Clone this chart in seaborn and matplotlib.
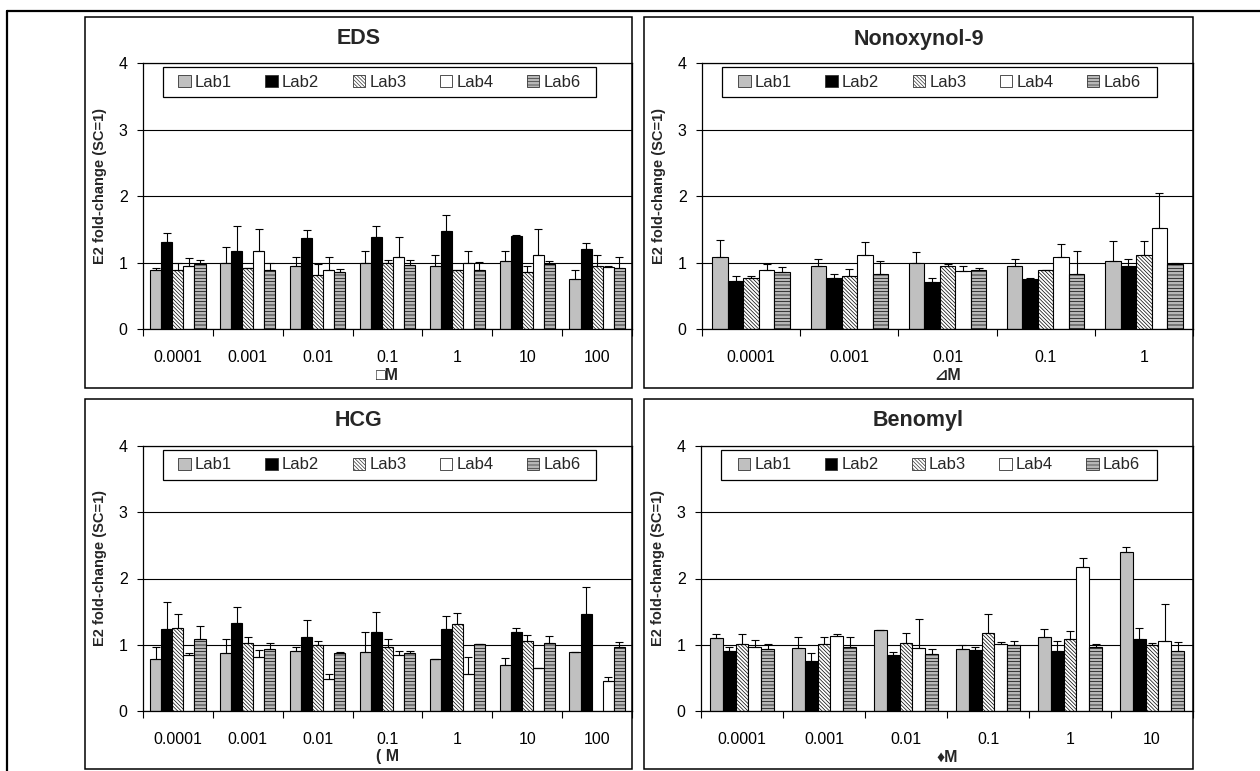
import numpy as np
import pandas as pd
import matplotlib
matplotlib.use("Agg")
import matplotlib.pyplot as plt
import seaborn as sns
from matplotlib.patches import Rectangle, Patch
from matplotlib.lines import Line2D

# ---------------- data ----------------
labs = ["Lab1", "Lab2", "Lab3", "Lab4", "Lab6"]

eds_doses = ["0.0001", "0.001", "0.01", "0.1", "1", "10", "100"]
eds_mean = {
    "Lab1": [0.88, 1.00, 0.95, 0.99, 0.94, 1.02, 0.75],
    "Lab2": [1.31, 1.18, 1.37, 1.38, 1.48, 1.40, 1.20],
    "Lab3": [0.89, 0.91, 0.81, 0.99, 0.89, 0.85, 0.95],
    "Lab4": [0.94, 1.17, 0.89, 1.09, 1.00, 1.12, 0.93],
    "Lab6": [0.97, 0.88, 0.85, 0.96, 0.88, 0.97, 0.92],
}
eds_err = {
    "Lab1": [0.03, 0.24, 0.13, 0.19, 0.18, 0.15, 0.13],
    "Lab2": [0.13, 0.37, 0.12, 0.17, 0.23, 0.01, 0.09],
    "Lab3": [0.11, 0.005, 0.16, 0.05, 0.0, 0.09, 0.17],
    "Lab4": [0.13, 0.34, 0.20, 0.30, 0.18, 0.39, 0.01],
    "Lab6": [0.07, 0.12, 0.05, 0.08, 0.13, 0.06, 0.17],
}

non_doses = ["0.0001", "0.001", "0.01", "0.1", "1"]
non_mean = {
    "Lab1": [1.09, 0.95, 1.00, 0.95, 1.03],
    "Lab2": [0.72, 0.76, 0.71, 0.75, 0.94],
    "Lab3": [0.77, 0.80, 0.95, 0.88, 1.11],
    "Lab4": [0.88, 1.12, 0.87, 1.08, 1.52],
    "Lab6": [0.85, 0.82, 0.89, 0.83, 0.97],
}
non_err = {
    "Lab1": [0.25, 0.10, 0.16, 0.10, 0.29],
    "Lab2": [0.08, 0.06, 0.05, 0.01, 0.12],
    "Lab3": [0.03, 0.10, 0.03, 0.01, 0.21],
    "Lab4": [0.09, 0.19, 0.08, 0.20, 0.52],
    "Lab6": [0.08, 0.21, 0.03, 0.34, 0.02],
}

hcg_doses = ["0.0001", "0.001", "0.01", "0.1", "1", "10", "100"]
hcg_mean = {
    "Lab1": [0.785, 0.875, 0.91, 0.89, 0.785, 0.695, 0.885],
    "Lab2": [1.245, 1.325, 1.12, 1.20, 1.245, 1.185, 1.46],
    "Lab3": [1.26, 1.03, 0.995, 0.97, 1.31, 1.06, np.nan],
    "Lab4": [0.85, 0.815, 0.48, 0.84, 0.555, 0.645, 0.45],
    "Lab6": [1.08, 0.94, 0.88, 0.88, 1.01, 1.02, 0.96],
}
hcg_err = {
    "Lab1": [0.185, 0.205, 0.05, 0.305, 0.005, 0.11, 0.01],
    "Lab2": [0.405, 0.245, 0.25, 0.295, 0.185, 0.075, 0.41],
    "Lab3": [0.205, 0.09, 0.065, 0.11, 0.165, 0.08, np.nan],
    "Lab4": [0.03, 0.10, 0.075, 0.07, 0.255, 0.0, 0.06],
    "Lab6": [0.205, 0.09, 0.005, 0.03, 0.005, 0.115, 0.075],
}

ben_doses = ["0.0001", "0.001", "0.01", "0.1", "1", "10"]
ben_mean = {
    "Lab1": [1.105, 0.95, 1.23, 0.94, 1.12, 2.405],
    "Lab2": [0.91, 0.755, 0.845, 0.925, 0.91, 1.09],
    "Lab3": [1.015, 1.015, 1.03, 1.18, 1.09, 0.99],
    "Lab4": [0.97, 1.135, 0.955, 1.015, 2.175, 1.06],
    "Lab6": [0.94, 0.97, 0.86, 0.99, 0.97, 0.91],
}
ben_err = {
    "Lab1": [0.05, 0.17, 0.0, 0.05, 0.12, 0.065],
    "Lab2": [0.05, 0.12, 0.045, 0.045, 0.15, 0.165],
    "Lab3": [0.14, 0.105, 0.15, 0.28, 0.12, 0.04],
    "Lab4": [0.105, 0.03, 0.43, 0.03, 0.14, 0.555],
    "Lab6": [0.075, 0.15, 0.08, 0.07, 0.04, 0.135],
}

titles = ["EDS", "Nonoxynol-9", "HCG", "Benomyl"]
xlabels = ["\u25a1M", "\u22bfM", "( M", "\u2666M"]
ylabel = "E2 fold-change (SC=1)"
ytick_vals = [0, 1, 2, 3, 4]

# ---------------- style ----------------
sns.set_style("white")
plt.rcParams["font.family"] = ["Liberation Sans", "DejaVu Sans"]
plt.rcParams["hatch.linewidth"] = 0.5

lab_face = {"Lab1": "#c0c0c0", "Lab2": "#000000", "Lab3": "#ffffff",
            "Lab4": "#ffffff", "Lab6": "#b8b8b8"}
lab_hatch = {"Lab1": None, "Lab2": None, "Lab3": "\\" * 9,
             "Lab4": None, "Lab6": "-----"}

W, H = 1260, 771
fig = plt.figure(figsize=(W / 100, H / 100), dpi=100)
fig.patch.set_facecolor("white")


def fig_rect(x0, y0, x1, y1):
    return [x0 / W, 1 - y1 / H, (x1 - x0) / W, (y1 - y0) / H]


axes_px = [(143, 63, 632, 329), (702, 63, 1193, 329),
           (143, 446, 632, 711), (701, 446, 1193, 711)]
panels_px = [(85, 17, 632, 388), (644, 17, 1193, 388),
             (85, 399, 632, 769), (644, 399, 1193, 769)]
datasets = [(eds_doses, eds_mean, eds_err), (non_doses, non_mean, non_err),
            (hcg_doses, hcg_mean, hcg_err), (ben_doses, ben_mean, ben_err)]

# outer frame lines
fig.add_artist(Line2D([7 / W, 1.0], [1 - 11 / H, 1 - 11 / H],
                      transform=fig.transFigure, color="black", lw=1.6))
fig.add_artist(Line2D([7 / W, 7 / W], [0.0, 1 - 11 / H],
                      transform=fig.transFigure, color="black", lw=1.6))

for idx in range(4):
    doses, means, errs = datasets[idx]
    px0, py0, px1, py1 = panels_px[idx]
    fig.add_artist(Rectangle((px0 / W, 1 - py1 / H), (px1 - px0) / W, (py1 - py0) / H,
                             transform=fig.transFigure, fill=False,
                             edgecolor="black", lw=1.1))
    ax = fig.add_axes(fig_rect(*axes_px[idx]))
    rows = []
    for lab in labs:
        for d, m in zip(doses, means[lab]):
            rows.append({"dose": d, "lab": lab, "value": m})
    df = pd.DataFrame(rows)
    sns.barplot(data=df, x="dose", y="value", hue="lab", order=doses,
                hue_order=labs, palette=lab_face, saturation=1, width=0.79,
                errorbar=None, legend=False, edgecolor="black", linewidth=0.8,
                ax=ax, zorder=2)
    # hatches + error bars from the bars seaborn drew
    for lab, cont in zip(labs, ax.containers):
        xs, hs, es = [], [], []
        for p in cont.patches:
            if lab_hatch[lab]:
                p.set_hatch(lab_hatch[lab])
            h = p.get_height()
            if h is None or np.isnan(h):
                continue
            xc = p.get_x() + p.get_width() / 2
            k = int(round(xc))
            e = errs[lab][k]
            if np.isnan(e):
                continue
            xs.append(xc)
            hs.append(h)
            es.append(e)
        ax.errorbar(xs, hs, yerr=[np.zeros(len(es)), es], fmt="none",
                    ecolor="black", elinewidth=0.8, capsize=3.2, capthick=0.8,
                    zorder=3)
    n = len(doses)
    ax.set_xlim(-0.5, n - 0.5)
    ax.set_ylim(0, 4)
    ax.set_yticks(ytick_vals)
    ax.set_xticks(np.arange(n + 1) - 0.5, minor=True)
    ax.yaxis.grid(True, color="black", lw=0.8)
    ax.xaxis.grid(False)
    ax.set_axisbelow(True)
    for s in ax.spines.values():
        s.set_visible(True)
        s.set_color("black")
        s.set_linewidth(0.9)
    ax.tick_params(axis="y", direction="out", length=4, width=0.8, pad=7,
                   labelsize=11.5, left=True, colors="black")
    ax.tick_params(axis="x", which="major", length=0, pad=15, labelsize=11.5,
                   colors="black")
    ax.tick_params(axis="x", which="minor", direction="out", length=5,
                   width=0.8, bottom=True, colors="black")
    ax.set_xlabel("")
    ax.set_ylabel("")

    # legend box + legend
    ax.add_patch(Rectangle((0.041, 0.872), 0.885, 0.113, transform=ax.transAxes,
                           facecolor="white", edgecolor="black", lw=0.9,
                           zorder=5))
    handles = [Patch(facecolor=lab_face[l], edgecolor="#333333", lw=0.6,
                     hatch=lab_hatch[l], label=l) for l in labs]
    leg = ax.legend(handles=handles, loc="center", bbox_to_anchor=(0.4835, 0.9285),
                    ncol=5, frameon=False, fontsize=12, handlelength=0.75,
                    handleheight=0.75, handletextpad=0.25, columnspacing=2.0,
                    borderpad=0.2)
    leg.set_zorder(6)

    # titles and axis titles
    fig.text(((px0 + px1) / 2) / W, 1 - (py0 + 22) / H, titles[idx],
             ha="center", va="center", fontsize=15.5, fontweight="bold")
    ax0, ay0, ax1, ay1 = axes_px[idx]
    fig.text((ax0 - 43) / W, 1 - ((ay0 + ay1) / 2 - 10) / H, ylabel,
             rotation=90, ha="center", va="center", fontsize=10.5,
             fontweight="bold")
    fig.text(((ax0 + ax1) / 2) / W, 1 - (ay1 + 46) / H, xlabels[idx],
             ha="center", va="center", fontsize=11.5, fontweight="bold")

fig.savefig("out.png", dpi=100, facecolor="white")
